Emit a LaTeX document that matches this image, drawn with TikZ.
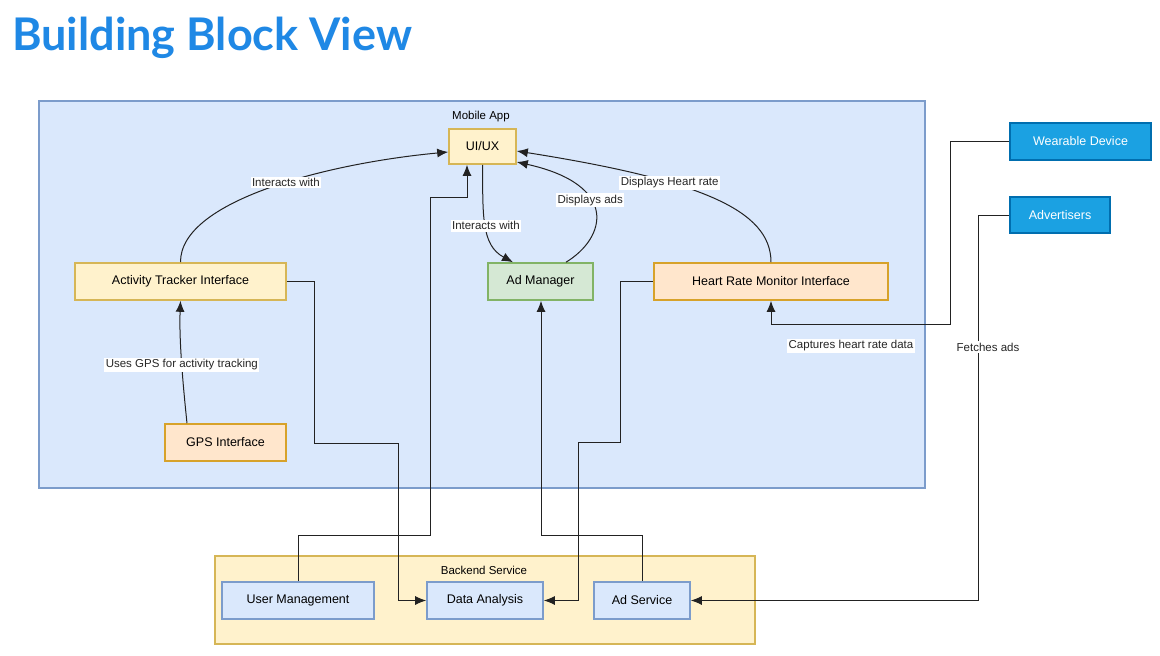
\documentclass[tikz,border=0pt]{standalone}
\usepackage{fontspec}
\setmainfont{Liberation Sans}
\newfontfamily\titlefont{Lato}
\usetikzlibrary{arrows.meta}
\definecolor{titleblue}{HTML}{1F88E5}
\definecolor{mafill}{HTML}{DAE8FC}
\definecolor{mastroke}{HTML}{7C9CCB}
\definecolor{yfill}{HTML}{FFF2CC}
\definecolor{ystroke}{HTML}{D6B656}
\definecolor{gfill}{HTML}{D5E8D4}
\definecolor{gstroke}{HTML}{82B366}
\definecolor{ofill}{HTML}{FFE6CC}
\definecolor{ostroke}{HTML}{D7A22A}
\definecolor{bfill}{HTML}{1BA1E2}
\definecolor{bstroke}{HTML}{006EAF}
\definecolor{linec}{HTML}{222222}
\tikzset{
  box/.style={draw, line width=1.6pt, inner sep=0pt, align=center, font=\fontsize{12.5}{14}\selectfont},
  ybox/.style={box, fill=yfill, draw=ystroke},
  gbox/.style={box, fill=gfill, draw=gstroke},
  obox/.style={box, fill=ofill, draw=ostroke},
  bbox/.style={box, fill=bfill, draw=bstroke, text=white},
  lbox/.style={box, fill=mafill, draw=mastroke},
  conn/.style={draw=linec, line width=1pt, -{Latex[length=11pt,width=9pt]}},
  lbl/.style={fill=white, inner sep=1.5pt, font=\fontsize{11.5}{13}\selectfont, text=black!85},
}
\begin{document}
\begin{tikzpicture}[x=1pt,y=-1pt]
\useasboundingbox (0,0) rectangle (1160,656);
\fill[white] (0,0) rectangle (1160,656);
% title
\node[anchor=base west, inner sep=0pt, text=titleblue, font=\titlefont\bfseries\fontsize{45}{52}\selectfont] (title) at (12,50) {Building Block View};
% containers
\node[draw=mastroke, fill=mafill, line width=1.6pt, minimum width=886pt, minimum height=387pt, inner sep=0pt] (mobile) at (482,294.5) {};
\node[font=\fontsize{11.5}{13}\selectfont] (mobilelbl) at (481,117) {Mobile App};
\node[draw=ystroke, fill=yfill, line width=1.6pt, minimum width=540pt, minimum height=88pt, inner sep=0pt] (backend) at (485,600) {};
\node[font=\fontsize{11.5}{13}\selectfont] (backendlbl) at (484,570) {Backend Service};
% nodes
\node[ybox, minimum width=67pt, minimum height=35pt] (ui) at (482.5,146.5) {UI/UX};
\node[ybox, minimum width=211pt, minimum height=37pt] (at) at (180.5,281.5) {Activity Tracker Interface};
\node[gbox, minimum width=105pt, minimum height=37pt] (am) at (540.5,281.5) {Ad Manager};
\node[obox, minimum width=234pt, minimum height=37pt] (hrm) at (771,281.5) {Heart Rate Monitor Interface};
\node[obox, minimum width=121pt, minimum height=37pt] (gps) at (225.5,442.5) {GPS Interface};
\node[bbox, minimum width=141pt, minimum height=37pt] (wd) at (1080.5,141.5) {Wearable Device};
\node[bbox, minimum width=100pt, minimum height=36pt] (adv) at (1060,215) {Advertisers};
\node[lbox, minimum width=152pt, minimum height=37pt] (um) at (298,600.5) {User Management};
\node[lbox, minimum width=116pt, minimum height=37pt] (da) at (485,600.5) {Data Analysis};
\node[lbox, minimum width=96pt, minimum height=37pt] (as) at (642,600.5) {Ad Service};
% curved connectors
\draw[conn] (at.north) .. controls (180,200) and (330,163) .. node[lbl, pos=0.55] {Interacts with} (ui.west |- 0,152);
\draw[conn] (gps.north -| 187,0) .. controls (183,385) and (179,340) .. node[lbl, pos=0.48] {Uses GPS for activity tracking} (at.south);
\draw[conn] (ui.south) .. controls (483,215) and (481,245) .. node[lbl, pos=0.5] {Interacts with} (am.north -| 513,0);
\draw[conn] (am.north -| 566,0) .. controls (606,238) and (620,185) .. node[lbl, pos=0.6] {Displays ads} (ui.east |- 0,162);
\draw[conn] (hrm.north) .. controls (771,210) and (700,180) .. node[lbl, pos=0.65] {Displays Heart rate} (ui.east |- 0,151);
% orthogonal connectors
\draw[conn] (at.east) -- (314,281.5) -- (314,443) -- (398,443) -- (398,600.5) -- (da.west);
\draw[conn] (hrm.west) -- (620,281.5) -- (620,442) -- (578,442) -- (578,600.5) -- (da.east);
\draw[conn] (um.north) -- (298,535) -- (430,535) -- (430,197) -- (467,197) -- (ui.south -| 467,0);
\draw[conn] (as.north) -- (642,535) -- (541,535) -- (am.south -| 541,0);
\draw[conn] (wd.west) -- (950,141.5) -- (950,324) -- (771,324) -- (hrm.south);
\draw[conn] (adv.west) -- (978,215) -- (978,600.5) -- (as.east);
% labels on orthogonal connectors
\node[lbl] (capl) at (851,346) {Captures heart rate data};
\node[lbl] (fetl) at (988,347) {Fetches ads};
\end{tikzpicture}
\end{document}
